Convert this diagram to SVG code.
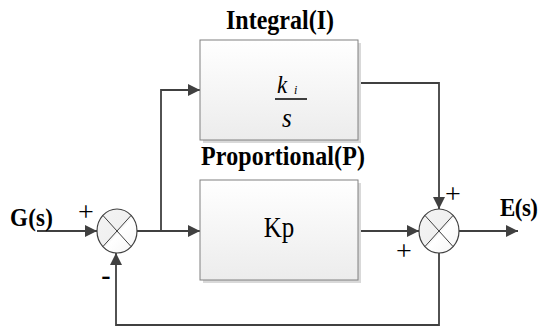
<svg xmlns="http://www.w3.org/2000/svg" width="539" height="327" viewBox="0 0 539 327">
<defs>
<linearGradient id="boxg" x1="0" y1="0" x2="0" y2="1">
<stop offset="0" stop-color="#ffffff"/>
<stop offset="1" stop-color="#ececec"/>
</linearGradient>
<linearGradient id="circg" x1="0" y1="0" x2="1" y2="1">
<stop offset="0" stop-color="#f4f4f4"/>
<stop offset="0.5" stop-color="#f0f0f0"/>
<stop offset="0.55" stop-color="#ffffff"/>
<stop offset="1" stop-color="#f4f4f4"/>
</linearGradient>
<marker id="arr" viewBox="0 0 12 12" refX="12" refY="6" markerWidth="12" markerHeight="12" markerUnits="userSpaceOnUse" orient="auto">
<path d="M0,0 L12,6 L0,12 z" fill="#404040"/>
</marker>
</defs>
<style>
.box{fill:url(#boxg);stroke:#808080;stroke-width:1}
.shadow{fill:#d9d9d9}
.sum{fill:url(#circg);stroke:#404040;stroke-width:1.2}
.x{stroke:#404040;stroke-width:1}
.wire{fill:none;stroke:#404040;stroke-width:1.8}
.arrow{marker-end:url(#arr)}
.title{font-family:"Liberation Serif","Times New Roman",serif;font-weight:bold;font-size:24px;fill:#000}
.sig{font-family:"Liberation Serif","Times New Roman",serif;font-weight:bold;font-size:23px;fill:#000}
.math{font-family:"Liberation Serif","Times New Roman",serif;font-size:25px;fill:#000}
.it{font-family:"Liberation Serif","Times New Roman",serif;font-style:italic;fill:#000}
.sign{font-family:"Liberation Serif","Times New Roman",serif;font-size:28px;fill:#000}
</style>
<g id="connectors">
<path class="wire arrow" d="M37,231 H97"/>
<path class="wire arrow" d="M137,231 H200"/>
<path class="wire arrow" d="M161,231 V90 H200"/>
<path class="wire arrow" d="M358,83 H439 V209"/>
<path class="wire arrow" d="M358,231 H419"/>
<path class="wire arrow" d="M459,231 H518"/>
<path class="wire arrow" d="M439,253 V325 H116 V253"/>
</g>
<g id="integral">
<rect class="shadow" x="203" y="43" width="158" height="100"/>
<rect class="box" x="200" y="40" width="158" height="100"/>
<text class="title" text-anchor="middle" transform="translate(280,29) scale(1,1.12)" textLength="108">Integral(I)</text>
<text class="it" font-size="23" transform="translate(277,93) scale(1,1.12)">k</text>
<text class="it" font-size="12" transform="translate(294,94) scale(1,1.12)">i</text>
<line x1="275" y1="99" x2="307" y2="99" stroke="#000" stroke-width="1.5"/>
<text class="it" font-size="25" transform="translate(282,127) scale(1,1.12)">s</text>
</g>
<g id="proportional">
<rect class="shadow" x="203" y="183" width="158" height="100"/>
<rect class="box" x="200" y="180" width="158" height="100"/>
<text class="title" text-anchor="middle" transform="translate(283,165) scale(1,1.12)" textLength="164">Proportional(P)</text>
<text class="math" text-anchor="middle" transform="translate(279,237) scale(1,1.15)">Kp</text>
</g>
<g id="sum1">
<ellipse class="sum" cx="117" cy="231" rx="20" ry="22"/>
<line class="x" x1="102.9" y1="215.4" x2="131.1" y2="246.6"/>
<line class="x" x1="131.1" y1="215.4" x2="102.9" y2="246.6"/>
<text class="sign" text-anchor="middle" x="86" y="221">+</text>
<text class="sign" font-weight="bold" text-anchor="middle" x="106" y="284">-</text>
</g>
<g id="sum2">
<ellipse class="sum" cx="439" cy="231" rx="20" ry="22"/>
<line class="x" x1="424.9" y1="215.4" x2="453.1" y2="246.6"/>
<line class="x" x1="453.1" y1="215.4" x2="424.9" y2="246.6"/>
<text class="sign" text-anchor="middle" x="453" y="203">+</text>
<text class="sign" text-anchor="middle" x="404" y="260">+</text>
</g>
<g id="input">
<text class="sig" transform="translate(10,226) scale(1,1.12)" textLength="43">G(s)</text>
</g>
<g id="output">
<text class="sig" transform="translate(500,216) scale(1,1.12)" textLength="38">E(s)</text>
</g>
</svg>
